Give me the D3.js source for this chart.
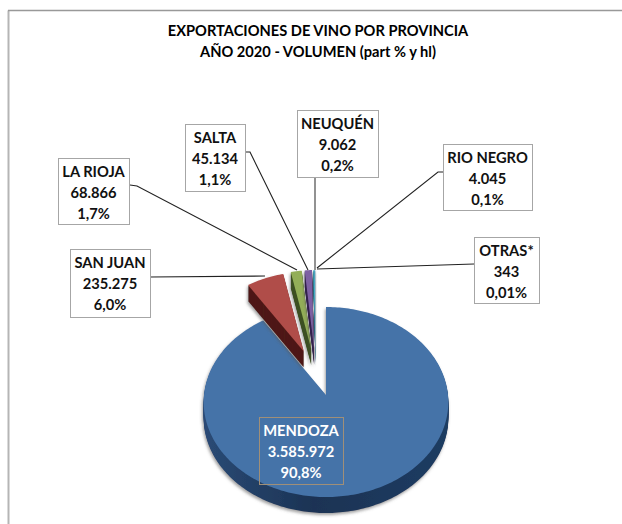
<!DOCTYPE html>
<html><head><meta charset="utf-8">
<script src="https://cdn.jsdelivr.net/npm/d3@7/dist/d3.min.js"></script>
<style>html,body{margin:0;background:#fff}svg{display:block}</style></head>
<body><svg id="c" width="622" height="524"></svg>
<script>
const provinces=["MENDOZA","SAN JUAN","LA RIOJA","SALTA","NEUQUÉN","RIO NEGRO","OTRAS*"];
const volumes=[3585972,235275,68866,45134,9062,4045,343];
const volumeLabels=["3.585.972","235.275","68.866","45.134","9.062","4.045","343"];
const shareLabels=["90,8%","6,0%","1,7%","1,1%","0,2%","0,1%","0,01%"];
const titleLines=["EXPORTACIONES DE VINO POR PROVINCIA","AÑO 2020 - VOLUMEN (part % y hl)"];
const topColors=["#4573a8","#b04d4a","#93ae58","#7d60a3","#4aacc5","#c9dcea","#dce6f0"];
const wallColors=["#1f3a5f","#4f1a18","#3d5120","#34234f","#2a6a7c","#8aa3b5","#a0b0c0"];

const font="Lato, Carlito, sans-serif";
const svg=d3.select("#c");
const defs=svg.append("defs");
const wallGrad=defs.append("linearGradient").attr("id","wall");
[[0,"#2a4a75"],[.45,"#1b3354"],[1,"#1f3c62"]].forEach(([o,c])=>wallGrad.append("stop").attr("offset",o).attr("stop-color",c));
const sh=defs.append("filter").attr("id","sh").attr("x","-20%").attr("y","-20%").attr("width","140%").attr("height","140%");
sh.append("feDropShadow").attr("dx",-1).attr("dy",2).attr("stdDeviation",1.6).attr("flood-color","#555").attr("flood-opacity",.55);

// frame
svg.append("path").attr("d","M8.5,524V10.5").attr("fill","none").attr("stroke","#b5b5b5").attr("stroke-width",2);
svg.append("path").attr("d","M8,10.5H622").attr("fill","none").attr("stroke","#999").attr("stroke-width",1.6);

// title
svg.append("g").selectAll("text").data(titleLines).join("text")
 .attr("x",318).attr("y",(d,i)=>36+i*21).attr("text-anchor","middle")
 .attr("font-family",font).attr("font-weight",700).attr("font-size",14.65).attr("fill","#000").text(d=>d);

// pie geometry
const arcs=d3.pie().sort(null).value(d=>d).startAngle(0).endAngle(2*Math.PI)(volumes);
const main={cx:326,cy:395,rx:122,ry:94.5,k:0.0737,depth:16};
const exploded={cx:316,cy:381,burst:32,rx:102,ry:79,k:0,depth:16};
const line=d3.line();
function slicePath(d,g,dy){
  const bis=(d.startAngle+d.endAngle)/2-2*Math.PI;
  const ox=g.burst?g.burst*Math.sin(bis):0, oy=g.burst?-g.burst*Math.cos(bis):0;
  const cx=g.cx+ox, cy=g.cy+oy+dy;
  const n=Math.max(2,Math.ceil((d.endAngle-d.startAngle)/0.02));
  const pts=[[cx,cy]];
  d3.range(n+1).forEach(i=>{
    const a=d.startAngle+(d.endAngle-d.startAngle)*i/n;
    const u=Math.sin(a),v=Math.cos(a),p=1/(1+g.k*v);
    pts.push([cx+g.rx*u*p,cy-g.ry*v*p]);
  });
  return line(pts)+"Z";
}
// Mendoza: side wall then top
const mg=svg.append("g").attr("filter","url(#sh)");
d3.range(main.depth,0,-1).forEach(dy=>mg.append("path").attr("d",slicePath(arcs[0],main,dy)).attr("fill","url(#wall)"));
mg.append("path").attr("d",slicePath(arcs[0],main,0)).attr("fill",topColors[0]);

// small exploded slices
arcs.slice(1).forEach((d,i)=>{
  const g=svg.append("g").attr("filter","url(#sh)");
  d3.range(exploded.depth,0,-1).forEach(dy=>g.append("path").attr("d",slicePath(d,exploded,dy)).attr("fill",wallColors[i+1]));
  g.append("path").attr("d",slicePath(d,exploded,0)).attr("fill",topColors[i+1]);
});

// leaders
const leaders=[
 [[150,277],[265,276]],
 [[130,185],[137,186],[297,270]],
 [[245,152],[250,152],[308,270]],
 [[315,177],[315,270]],
 [[443,172],[438,172],[317,268]],
 [[474,264],[317,269]]];
const lc=[ "#222","#222","#222","#777","#222","#222"];
svg.append("g").selectAll("path").data(leaders).join("path")
 .attr("d",d=>line(d)).attr("fill","none").attr("stroke",(d,i)=>lc[i]).attr("stroke-width",(d,i)=>i==3?1.6:1.1);

// label boxes: index into provinces
const boxes=[
 {i:0,x:259,y:417,w:84,h:67,line:"#a08f78",text:"#fff",fill:"none"},
 {i:1,x:70,y:249,w:80,h:68},
 {i:2,x:58,y:158,w:71,h:66},
 {i:3,x:185,y:124,w:60,h:67},
 {i:4,x:297,y:110,w:81,h:67},
 {i:5,x:443,y:144,w:89,h:66},
 {i:6,x:474,y:237,w:65,h:66}];
const lb=svg.append("g").selectAll("g").data(boxes).join("g");
lb.append("rect").attr("x",d=>d.x+.5).attr("y",d=>d.y+.5).attr("width",d=>d.w).attr("height",d=>d.h)
 .attr("fill",d=>d.fill||"#fff").attr("stroke",d=>d.line||"#a6a6a6");
lb.each(function(d){
  const rows=[provinces[d.i],volumeLabels[d.i],shareLabels[d.i]];
  d3.select(this).selectAll("text").data(rows).join("text")
   .attr("x",d.x+d.w/2).attr("y",(r,j)=>d.y+18.5+j*21.4).attr("text-anchor","middle")
   .attr("font-family",font).attr("font-weight",700).attr("font-size",14.7).attr("fill",d.text||"#111").text(r=>r);
});
</script></body></html>
